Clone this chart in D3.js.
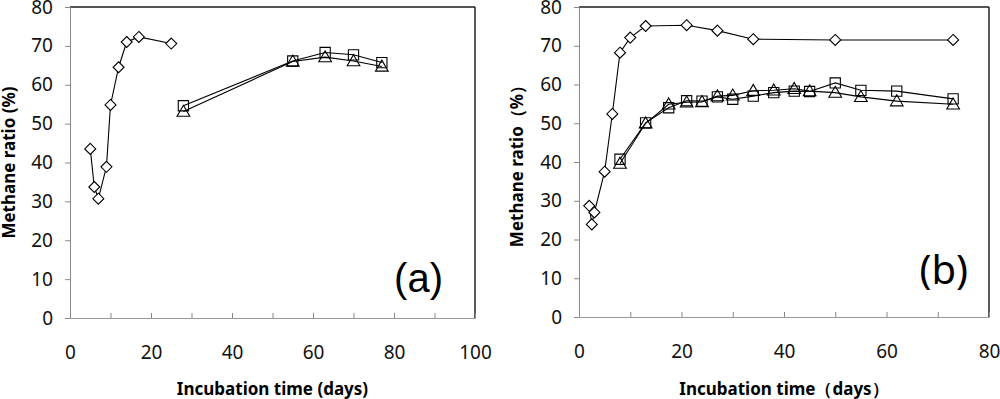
<!DOCTYPE html>
<html>
<head>
<meta charset="utf-8">
<script src="https://cdn.jsdelivr.net/npm/d3@7.9.0/dist/d3.min.js"></script>
<style>
  body { margin: 0; background: #fff; }
  svg { display: block; }
</style>
</head>
<body>
<svg id="chart" width="1000" height="399"></svg>
<script>
// --- Panel (a) data ---
const daysA_diamond = [5, 6, 7, 9, 10, 12, 14, 17, 25];
const ratioA_diamond = [43.5, 33.7, 30.7, 38.9, 54.8, 64.5, 71.0, 72.3, 70.6];
const daysA_sq = [28, 55, 63, 70, 77];
const ratioA_square = [54.6, 66.1, 68.3, 67.7, 65.7];
const ratioA_triangle = [53.1, 66.0, 67.1, 66.1, 64.7];

// --- Panel (b) data ---
const daysB_diamond = [2, 2.5, 3, 5, 6.5, 8, 10, 13, 21, 27, 34, 50, 73];
const ratioB_diamond = [28.7, 23.9, 27.0, 37.5, 52.4, 68.2, 72.1, 75.1, 75.3, 73.9, 71.7, 71.5, 71.5];
const daysB_sq = [8, 13, 17.5, 21, 24, 27, 30, 34, 38, 42, 45, 50, 55, 62, 73];
const ratioB_square = [40.7, 50.1, 54.0, 55.8, 55.7, 56.8, 56.2, 57.0, 57.9, 58.3, 58.2, 60.4, 58.5, 58.3, 56.3];
const ratioB_triangle = [39.6, 50.0, 54.9, 55.4, 55.5, 57.0, 57.2, 58.4, 58.5, 58.9, 58.3, 57.9, 56.8, 55.7, 54.9];

const yTicks = [0, 10, 20, 30, 40, 50, 60, 70, 80];

const svg = d3.select('#chart');
const tickFont = '"Noto Sans", "DejaVu Sans", sans-serif';

function drawPanel(cfg) {
    const x = d3.scaleLinear().domain([0, cfg.xMax]).range([cfg.left, cfg.right]);
    const y = d3.scaleLinear().domain([0, 80]).range([cfg.bottom, cfg.top]);
    const g = svg.append('g');

    // plot area frame (top / right darker)
    g.append('line').attr('x1', cfg.left).attr('x2', cfg.right).attr('y1', cfg.top).attr('y2', cfg.top)
        .attr('stroke', '#555').attr('stroke-width', 1.8);
    g.append('line').attr('x1', cfg.right).attr('x2', cfg.right).attr('y1', cfg.top).attr('y2', cfg.bottom)
        .attr('stroke', '#222').attr('stroke-width', 1.5);

    // y axis
    const yAxis = g.append('g').attr('transform', `translate(${cfg.left},0)`)
        .call(d3.axisLeft(y).tickValues(yTicks).tickSize(5).tickPadding(12));
    yAxis.select('.domain').attr('stroke', '#888');
    yAxis.selectAll('.tick line').attr('stroke', '#888');
    yAxis.selectAll('text').attr('font-family', tickFont).attr('font-size', 19).attr('fill', '#111');

    // x axis: ticks every 10 pointing inward, labels every 20
    const xAxis = g.append('g').attr('transform', `translate(0,${cfg.bottom})`)
        .call(d3.axisBottom(x).tickValues(d3.range(0, cfg.xMax + 1, 10)).tickSize(-5)
            .tickFormat(d => d % 20 === 0 ? d : ''));
    xAxis.select('.domain').attr('stroke', '#999');
    xAxis.selectAll('.tick line').attr('stroke', '#888');
    xAxis.selectAll('text').attr('font-family', tickFont).attr('font-size', 19).attr('fill', '#111')
        .attr('y', 28);

    // axis titles
    g.append('text')
        .attr('transform', `translate(${cfg.yTitleX},${(cfg.top + cfg.bottom) / 2}) rotate(-90)`)
        .attr('text-anchor', 'middle').attr('dominant-baseline', 'middle')
        .attr('font-family', tickFont).attr('font-weight', 'bold').attr('font-size', 17)
        .text(cfg.yTitle);
    g.append('text')
        .attr('x', (cfg.left + cfg.right) / 2 + cfg.xTitleDx).attr('y', 395)
        .attr('text-anchor', 'middle')
        .attr('font-family', tickFont).attr('font-weight', 'bold').attr('font-size', 17)
        .text(cfg.xTitle);

    // series: lines first, then markers on top
    const line = d3.line().x(d => x(d[0])).y(d => y(d[1]));
    const sym = {
        square: d3.symbol().type(d3.symbolSquare).size(105),
        triangle: d3.symbol().type(d3.symbolTriangle).size(70)
    };
    cfg.series.forEach(s => {
        const pts = d3.zip(s.days, s.values);
        g.append('path').attr('d', line(pts)).attr('fill', 'none')
            .attr('stroke', '#000').attr('stroke-width', 1.1);
    });
    cfg.series.forEach(s => {
        const pts = d3.zip(s.days, s.values);
        g.selectAll(null).data(pts).enter().append('path')
            .attr('transform', d => `translate(${x(d[0])},${y(d[1]) + (s.shape === 'triangle' ? 1 : 0)})`)
            .attr('d', s.shape === 'diamond'
                ? 'M0,-5.5L5.5,0L0,5.5L-5.5,0Z'
                : sym[s.shape]())
            .attr('fill', s.shape === 'diamond' ? '#fff' : 'none')
            .attr('stroke', '#000').attr('stroke-width', 1.1);
    });

    // panel label
    g.append('text').attr('x', cfg.labelX).attr('y', cfg.labelY)
        .attr('text-anchor', 'end')
        .attr('font-family', cfg.labelFont).attr('font-size', 40)
        .text(cfg.label);
}

drawPanel({
    left: 70, right: 475, top: 7, bottom: 318, xMax: 100,
    yTitleX: 10, yTitle: 'Methane ratio (%)',
    xTitle: 'Incubation time (days)', xTitleDx: 0,
    label: '(a)', labelX: 443, labelY: 292, labelFont: '"Liberation Sans", Arial, sans-serif',
    series: [
        { shape: 'diamond', days: daysA_diamond, values: ratioA_diamond },
        { shape: 'triangle', days: daysA_sq, values: ratioA_triangle },
        { shape: 'square', days: daysA_sq, values: ratioA_square }
    ]
});

drawPanel({
    left: 579, right: 989, top: 7, bottom: 317, xMax: 80,
    yTitleX: 518, yTitle: 'Methane ratio（%）',
    xTitle: 'Incubation time（days）', xTitleDx: 0,
    label: '(b)', labelX: 968, labelY: 284, labelFont: '"Noto Sans", "DejaVu Sans", sans-serif',
    series: [
        { shape: 'diamond', days: daysB_diamond, values: ratioB_diamond },
        { shape: 'triangle', days: daysB_sq, values: ratioB_triangle },
        { shape: 'square', days: daysB_sq, values: ratioB_square }
    ]
});
</script>
</body>
</html>
